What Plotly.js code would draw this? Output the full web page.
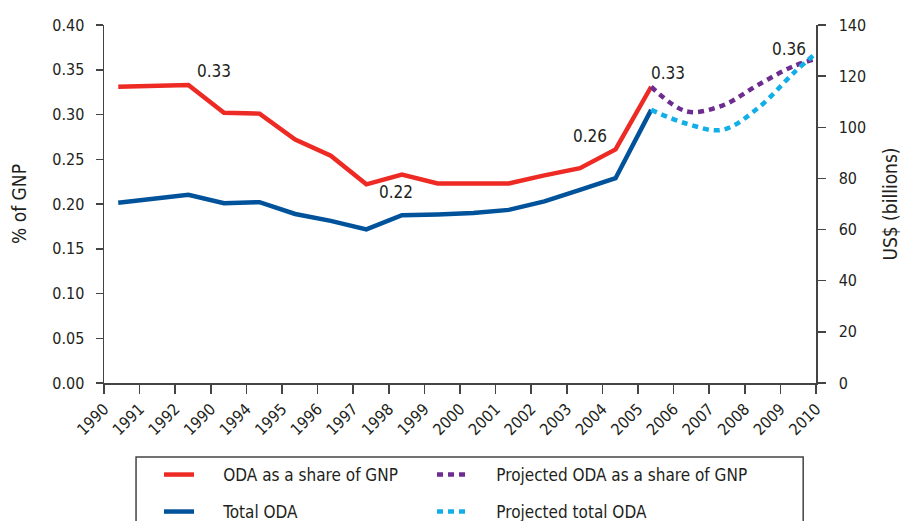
<!DOCTYPE html>
<html>
<head>
<meta charset="utf-8">
<script src="https://cdn.plot.ly/plotly-3.0.1.min.js"></script>
<style>
  html, body { margin: 0; padding: 0; background: #fff; }
  #chart { width: 901px; height: 521px; }
</style>
</head>
<body>
<div id="chart"></div>
<script>
// ---- data ----
const tickLabels = ['1990','1991','1992','1990','1994','1995','1996','1997','1998','1999',
                    '2000','2001','2002','2003','2004','2005','2006','2007','2008','2009','2010'];
// x positions (in tick-index units) of the observed points, 1990..2005
const actualX = [0.4, 1.37, 2.37, 3.37, 4.37, 5.37, 6.37, 7.37, 8.37, 9.37,
                 10.37, 11.37, 12.37, 13.37, 14.37, 15.37];
const odaShare = [0.331, 0.332, 0.333, 0.302, 0.301, 0.272, 0.254, 0.222, 0.233, 0.223,
                  0.223, 0.223, 0.232, 0.240, 0.261, 0.331];
const totalOda = [70.5, 72.0, 73.6, 70.3, 70.7, 66.1, 63.4, 60.1, 65.6, 65.9,
                  66.5, 67.7, 71.0, 75.5, 80.1, 106.8];
// projected 2005..2010
const projX = [15.37, 16.37, 17.37, 18.37, 19.37, 20];
const projShare = [0.331, 0.3035, 0.310, 0.333, 0.354, 0.362];
const projTotal = [106.8, 101.4, 99.0, 107.5, 121.2, 129.0];
const leftTicks = [0, 0.05, 0.10, 0.15, 0.20, 0.25, 0.30, 0.35, 0.40];
const rightTicks = [0, 20, 40, 60, 80, 100, 120, 140];
const seriesNames = ['ODA as a share of GNP', 'Projected ODA as a share of GNP',
                     'Total ODA', 'Projected total ODA'];
const labelNotes = [
  {x: 2.37, y: 0.333, text: '0.33', dx: 26, dy: 14},
  {x: 8.37, y: 0.233, text: '0.22', dx: -6, dy: -18},
  {x: 14.37, y: 0.261, text: '0.26', dx: -26, dy: 13},
  {x: 15.37, y: 0.331, text: '0.33', dx: 17, dy: 14},
  {x: 20, y: 0.362, text: '0.36', dx: -27, dy: 10}
];

const FONT = '"Liberation Sans Narrow", "DejaVu Sans Condensed", "Roboto", sans-serif';
const TXT = '#231f20';
const RED = '#ed2a24', BLUE = '#00529b', PURPLE = '#6d2c8f', CYAN = '#12aee8';
const PAD = '\u00a0\u00a0\u00a0\u00a0\u00a0';

const traces = [
  {x: actualX, y: odaShare, name: PAD + seriesNames[0], type: 'scatter', mode: 'lines',
   line: {color: RED, width: 4.5}, yaxis: 'y', legend: 'legend'},
  {x: projX, y: projShare, name: PAD + seriesNames[1], type: 'scatter', mode: 'lines',
   line: {color: PURPLE, width: 4.5, dash: '6px,5px', shape: 'spline', smoothing: 1}, yaxis: 'y', legend: 'legend2'},
  {x: actualX, y: totalOda, name: PAD + seriesNames[2], type: 'scatter', mode: 'lines',
   line: {color: BLUE, width: 4.5}, yaxis: 'y2', legend: 'legend3'},
  {x: projX, y: projTotal, name: PAD + seriesNames[3], type: 'scatter', mode: 'lines',
   line: {color: CYAN, width: 4.5, dash: '6px,5px', shape: 'spline', smoothing: 1}, yaxis: 'y2', legend: 'legend4'}
];

const legendCommon = {
  orientation: 'h', xanchor: 'left', yanchor: 'middle', xref: 'container', yref: 'container',
  bgcolor: 'rgba(0,0,0,0)', borderwidth: 0,
  font: {family: FONT, size: 17, color: TXT}, itemclick: false
};
const mk = (x, y) => Object.assign({}, legendCommon, {x: x, y: y});

const layout = {
  width: 901, height: 521,
  margin: {l: 104, r: 85, t: 25, b: 138, pad: 0},
  paper_bgcolor: '#fff', plot_bgcolor: '#fff',
  font: {family: FONT, size: 16, color: TXT},
  showlegend: true,
  xaxis: {
    range: [0, 20], tickmode: 'array', tickvals: tickLabels.map((_, i) => i), ticktext: tickLabels,
    tickangle: -45, ticks: 'outside', ticklen: 9, tickcolor: '#444', tickwidth: 1.5,
    showline: true, linecolor: '#444', linewidth: 1.5, showgrid: false, zeroline: false,
    automargin: false,
    tickfont: {family: FONT, size: 16, color: TXT}
  },
  yaxis: {
    range: [0, 0.4], tickmode: 'array', tickvals: leftTicks, tickformat: '.2f',
    ticks: 'outside', ticklen: 7, tickcolor: '#444', tickwidth: 1.5, ticklabelstandoff: 8,
    showline: true, linecolor: '#444', linewidth: 1.5, showgrid: false, zeroline: false,
    automargin: false,
    tickfont: {family: FONT, size: 16, color: TXT},
    title: {text: '% of GNP', font: {family: FONT, size: 19, color: TXT}, standoff: 20}
  },
  yaxis2: {
    range: [0, 140], tickmode: 'array', tickvals: rightTicks, overlaying: 'y', side: 'right',
    ticks: 'outside', ticklen: 8, tickcolor: '#444', tickwidth: 1.5, ticklabelstandoff: 10,
    showline: true, linecolor: '#444', linewidth: 1.5, showgrid: false, zeroline: false,
    automargin: false,
    tickfont: {family: FONT, size: 16, color: TXT},
    title: {text: 'US$ (billions)', font: {family: FONT, size: 19, color: TXT}, standoff: 28}
  },
  legend: mk(0.1765, 0.0883),
  legend2: mk(0.4795, 0.0883),
  legend3: mk(0.1765, 0.0173),
  legend4: mk(0.4795, 0.0173),
  shapes: [{
    type: 'rect', xref: 'paper', yref: 'paper', x0: 0.045, x1: 0.982, y0: -0.207, y1: -0.45,
    line: {color: '#444', width: 1.5}, fillcolor: 'rgba(0,0,0,0)'
  }],
  annotations: labelNotes.map(a => ({
    x: a.x, y: a.y, xref: 'x', yref: 'y', text: a.text, showarrow: false,
    xshift: a.dx, yshift: a.dy, font: {family: FONT, size: 17, color: TXT}
  }))
};

Plotly.newPlot('chart', traces, layout, {displayModeBar: false, staticPlot: true});
</script>
</body>
</html>
